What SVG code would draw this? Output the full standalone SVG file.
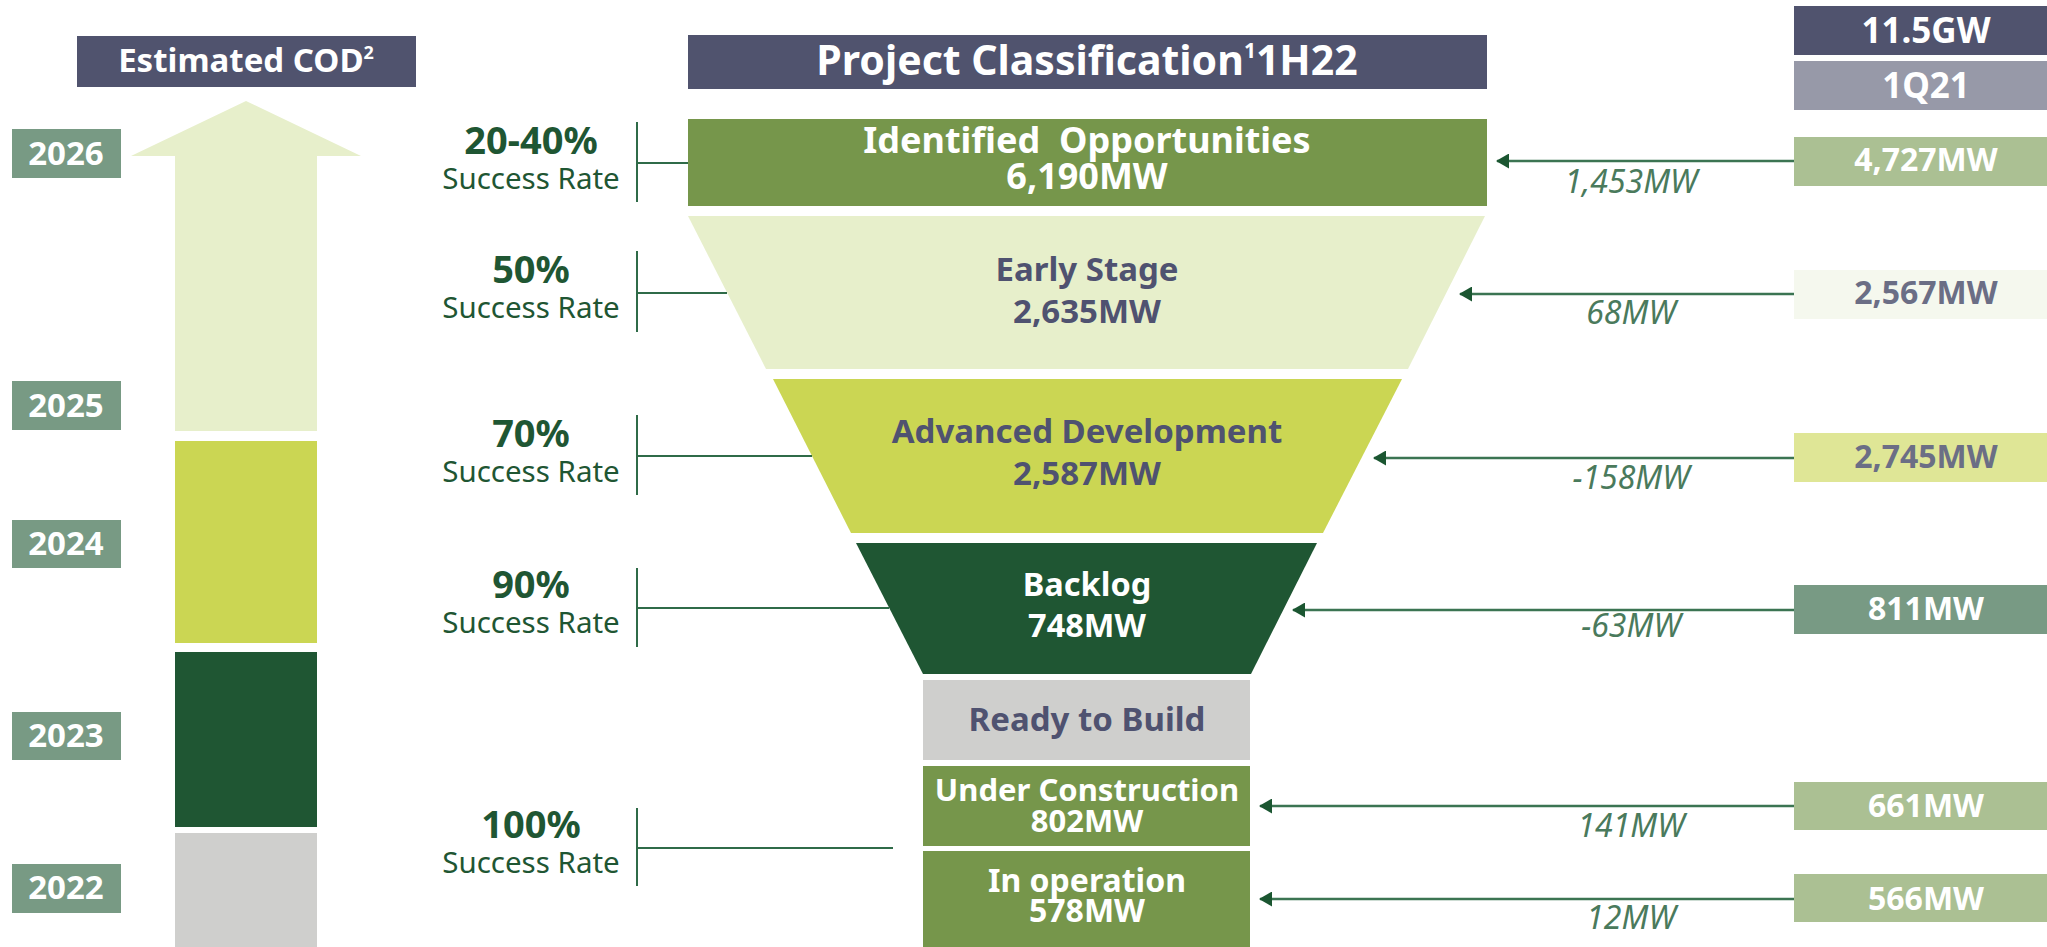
<svg xmlns="http://www.w3.org/2000/svg" width="2047" height="947" viewBox="0 0 2047 947">
<defs>
<style>
.b{font-family:"Noto Sans","Open Sans","DejaVu Sans",sans-serif;font-weight:700;text-anchor:middle}
.w{fill:#ffffff}
.sl{fill:#4f5270}
.sg{fill:#6b6e85}
.pc{font-family:"Noto Sans","Open Sans",sans-serif;font-weight:700;font-size:38px;fill:#1f5633;text-anchor:middle}
.sr{font-family:"Noto Sans","Open Sans",sans-serif;font-size:29.5px;fill:#1f5633;text-anchor:middle}
.it{font-family:"Noto Sans","Open Sans",sans-serif;font-style:italic;font-size:32px;fill:#4a7a5c;text-anchor:middle}
.br{stroke:#2f6b48;stroke-width:2;fill:none}
.ar{stroke:#3b7452;stroke-width:2.5;fill:none;marker-end:url(#ah)}
.yr{fill:#789a84}
</style>
<marker id="ah" markerUnits="userSpaceOnUse" markerWidth="13" markerHeight="15" viewBox="0 0 13 15" refX="12" refY="7.5" orient="auto">
<path d="M0,0 L13,7.5 L0,15 z" fill="#1b5631"/>
</marker>
</defs>
<rect width="2047" height="947" fill="#ffffff"/>

<g id="cod-header">
<rect x="77" y="36" width="339" height="51" fill="#50536e"/>
<text class="b w" x="246" y="72" font-size="33">Estimated COD<tspan font-size="18" dy="-13">2</tspan></text>
</g>

<g id="cod-bars">
<path d="M246,101 L361,156 L317,156 L317,431 L175,431 L175,156 L131,156 Z" fill="#e7efcb"/>
<rect x="175" y="441" width="142" height="202" fill="#cbd653"/>
<rect x="175" y="652" width="142" height="175" fill="#1f5633"/>
<rect x="175" y="833" width="142" height="114" fill="#cfcfcd"/>
</g>

<g id="year-2026"><rect class="yr" x="12" y="129" width="109" height="49"/><text class="b w" x="66" y="165" font-size="33">2026</text></g>
<g id="year-2025"><rect class="yr" x="12" y="381" width="109" height="49"/><text class="b w" x="66" y="417" font-size="33">2025</text></g>
<g id="year-2024"><rect class="yr" x="12" y="520" width="109" height="48"/><text class="b w" x="66" y="555" font-size="33">2024</text></g>
<g id="year-2023"><rect class="yr" x="12" y="712" width="109" height="48"/><text class="b w" x="66" y="747" font-size="33">2023</text></g>
<g id="year-2022"><rect class="yr" x="12" y="864" width="109" height="49"/><text class="b w" x="66" y="899" font-size="33">2022</text></g>

<g id="rate-1"><text class="pc" x="531" y="154">20-40%</text><text class="sr" x="531" y="189">Success Rate</text></g>
<g id="rate-2"><text class="pc" x="531" y="283">50%</text><text class="sr" x="531" y="318">Success Rate</text></g>
<g id="rate-3"><text class="pc" x="531" y="447">70%</text><text class="sr" x="531" y="482">Success Rate</text></g>
<g id="rate-4"><text class="pc" x="531" y="598">90%</text><text class="sr" x="531" y="633">Success Rate</text></g>
<g id="rate-5"><text class="pc" x="531" y="838">100%</text><text class="sr" x="531" y="873">Success Rate</text></g>

<g id="title">
<rect x="688" y="35" width="799" height="54" fill="#50536e"/>
<text class="b w" x="1087" y="75" font-size="41">Project Classification<tspan font-size="21" dy="-17">1</tspan><tspan dy="17">1H22</tspan></text>
</g>

<g id="identified">
<rect x="688" y="119" width="799" height="87" fill="#76964b"/>
<text class="b w" font-size="36" xml:space="preserve"><tspan x="1087" y="153">Identified  Opportunities</tspan><tspan x="1087" y="189">6,190MW</tspan></text>
</g>

<g id="early-stage">
<path d="M688,216 L1485,216 L1408,369 L766,369 Z" fill="#e7efcb"/>
<text class="b sl" font-size="33"><tspan x="1087" y="281">Early Stage</tspan><tspan x="1087" y="323">2,635MW</tspan></text>
</g>

<g id="advanced-development">
<path d="M773,379 L1402,379 L1323,533 L851,533 Z" fill="#cbd653"/>
<text class="b sl" font-size="33"><tspan x="1087" y="443">Advanced Development</tspan><tspan x="1087" y="485">2,587MW</tspan></text>
</g>

<g id="backlog">
<path d="M856,543 L1317,543 L1251,674 L923,674 Z" fill="#1f5633"/>
<text class="b w" font-size="32.5"><tspan x="1087" y="596">Backlog</tspan><tspan x="1087" y="637">748MW</tspan></text>
</g>

<g id="ready-to-build">
<rect x="923" y="680" width="327" height="80" fill="#cfcfcd"/>
<text class="b sl" x="1087" y="731" font-size="33">Ready to Build</text>
</g>

<g id="under-construction">
<rect x="923" y="766" width="327" height="80" fill="#76964b"/>
<text class="b w" font-size="31"><tspan x="1087" y="801">Under Construction</tspan><tspan x="1087" y="832">802MW</tspan></text>
</g>

<g id="in-operation">
<rect x="923" y="851" width="327" height="96" fill="#76964b"/>
<text class="b w" font-size="32"><tspan x="1087" y="892">In operation</tspan><tspan x="1087" y="922">578MW</tspan></text>
</g>

<g id="total-header">
<rect x="1794" y="6" width="253" height="49" fill="#50536e"/>
<text class="b w" x="1926" y="43" font-size="35">11.5GW</text>
</g>
<g id="period-header">
<rect x="1794" y="61" width="253" height="49" fill="#9799a8"/>
<text class="b w" x="1926" y="98" font-size="35">1Q21</text>
</g>

<g id="prev-identified"><rect x="1794" y="137" width="253" height="49" fill="#abc093"/><text class="b w" x="1926" y="171" font-size="32">4,727MW</text></g>
<g id="prev-early"><rect x="1794" y="270" width="253" height="49" fill="#f5f8ee"/><text class="b sg" x="1926" y="304" font-size="32">2,567MW</text></g>
<g id="prev-advanced"><rect x="1794" y="433" width="253" height="49" fill="#dfe696"/><text class="b sg" x="1926" y="468" font-size="32">2,745MW</text></g>
<g id="prev-backlog"><rect x="1794" y="585" width="253" height="49" fill="#789a84"/><text class="b w" x="1926" y="620" font-size="32">811MW</text></g>
<g id="prev-construction"><rect x="1794" y="782" width="253" height="48" fill="#abc093"/><text class="b w" x="1926" y="817" font-size="32">661MW</text></g>
<g id="prev-operation"><rect x="1794" y="874" width="253" height="48" fill="#abc093"/><text class="b w" x="1926" y="910" font-size="32">566MW</text></g>

<g id="connectors">
<path class="br" d="M637,122 V202 M637,163 H688"/>
<path class="br" d="M637,251 V332 M637,293 H727"/>
<path class="br" d="M637,415 V495 M637,456 H812"/>
<path class="br" d="M637,568 V647 M637,608 H889"/>
<path class="br" d="M637,808 V886 M637,848 H893"/>
<line class="ar" x1="1794" y1="161" x2="1497" y2="161"/>
<line class="ar" x1="1794" y1="294" x2="1460" y2="294"/>
<line class="ar" x1="1794" y1="458" x2="1374" y2="458"/>
<line class="ar" x1="1794" y1="610" x2="1293" y2="610"/>
<line class="ar" x1="1794" y1="806" x2="1260" y2="806"/>
<line class="ar" x1="1794" y1="899" x2="1260" y2="899"/>
<text class="it" x="1631" y="193">1,453MW</text>
<text class="it" x="1631" y="324">68MW</text>
<text class="it" x="1631" y="489">-158MW</text>
<text class="it" x="1631" y="637">-63MW</text>
<text class="it" x="1631" y="837">141MW</text>
<text class="it" x="1631" y="929">12MW</text>
</g>
</svg>
